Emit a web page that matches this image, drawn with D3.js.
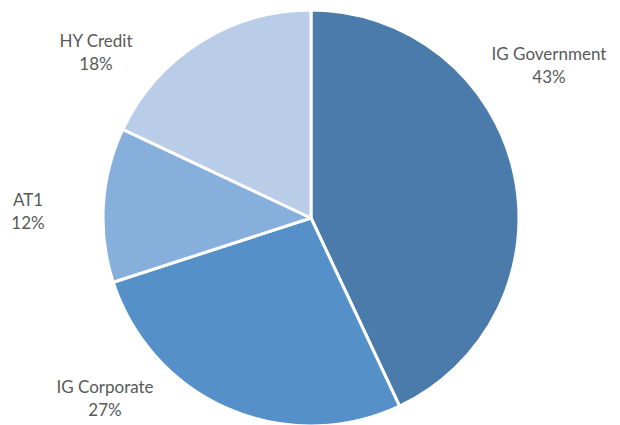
<!DOCTYPE html>
<html><head><meta charset="utf-8">
<script src="https://cdn.jsdelivr.net/npm/d3@7"></script>
<style>body{margin:0;background:#fff}svg{display:block}</style>
</head><body>
<svg id="c" width="620" height="425"></svg>
<script>
const categories = ["IG Government", "IG Corporate", "AT1", "HY Credit"];
const values = [43, 27, 12, 18];
const colors = ["#4A7BAB", "#5591C8", "#86AFDC", "#B9CDE8"];

// label layout (centre x, baseline y of first line)
const labelLayout = [[549, 60], [105, 393], [28, 206], [96, 47]];

const W = 620, H = 425, cx = 311, cy = 218, r = 208;
const svg = d3.select("#c");
const g = svg.append("g").attr("transform", `translate(${cx},${cy})`);
const pie = d3.pie().sort(null).value(d => d)(values);
const arc = d3.arc().innerRadius(0).outerRadius(r);
g.selectAll("path").data(pie).join("path")
  .attr("d", arc)
  .attr("fill", (d, i) => colors[i])
  .attr("stroke", "#fff").attr("stroke-width", 3).attr("stroke-linejoin", "round");

const fmt = d3.format(".0%");
const total = d3.sum(values);
const lab = svg.append("g").attr("font-family", "Lato, 'Open Sans', sans-serif")
  .attr("font-size", 17).attr("fill", "#595959").attr("text-anchor", "middle");
categories.forEach((c, i) => {
  const [x, y] = labelLayout[i];
  const t = lab.append("text").attr("x", x).attr("y", y);
  t.append("tspan").attr("x", x).text(c);
  t.append("tspan").attr("x", x).attr("dy", 23).text(fmt(values[i] / total));
});
</script>
</body></html>
